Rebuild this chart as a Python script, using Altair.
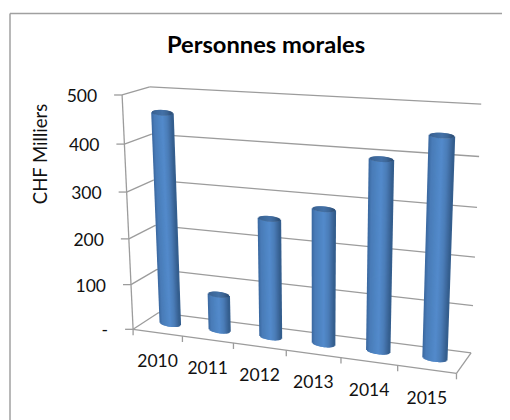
import numpy as np
import pandas as pd
import altair as alt

years = ["2010", "2011", "2012", "2013", "2014", "2015"]
values = [458, 80, 255, 285, 394, 447]
y_ticks = [0, 100, 200, 300, 400, 500]
y_tick_labels = ["-", "100", "200", "300", "400", "500"]
title_text = "Personnes morales"
y_title = "CHF Milliers"

FONT = "Lato"
VMAX = 500.0
LINE = "#9c9c9c"

# Oblique camera of the 3-D box: (category 0..1, value 0..1, depth 0..1) -> page pixel.
_cal = [
    ((0, 1, 0), (123, 95)), ((0, 0, 0), (132.7, 329.3)), ((1, 0, 0), (456.7, 373.3)),
    ((0, 1, 1), (149, 87)), ((0, 0, 1), (160, 313)), ((1, 1, 1), (481.6, 104.5)),
    ((1, 0, 1), (471, 352.7)), ((1 / 6, 0, 0), (182, 336)), ((3 / 6, 0, 0), (286, 350)),
    ((5 / 6, 0, 0), (397.7, 365.5)), ((1, .6, 1), (476.7, 207.3)), ((0, .6, 1), (153, 179.7)),
]
_A = []
for (u, v, w), (px, py) in _cal:
    X = [u, v, w, 1]
    _A.append(X + [0, 0, 0, 0] + [-px * c for c in X])
    _A.append([0, 0, 0, 0] + X + [-py * c for c in X])
_P = np.linalg.svd(np.array(_A, float))[2][-1].reshape(3, 4)


def proj(u, v, w):
    h = _P @ np.array([u, v, w, 1.0])
    return h[0] / h[2], h[1] / h[2]


def seg(rows, a, b):
    x, y = proj(*a)
    x2, y2 = proj(*b)
    rows.append(dict(x=x, y=y, x2=x2, y2=y2))


# grid, floor and axis lines
grid = []
for t in y_ticks:
    v = t / VMAX
    seg(grid, (0, v, 1), (1, v, 1))
    seg(grid, (0, v, 0), (0, v, 1))
    x, y = proj(0, v, 0)
    grid.append(dict(x=x - 8, y=y, x2=x, y2=y))
seg(grid, (0, 0, 0), (0, 1, 0))
seg(grid, (0, 0, 0), (1, 0, 0))
seg(grid, (1, 0, 0), (1, 0, 1))
for k in range(7):
    x, y = proj(k / 6, 0, 0)
    grid.append(dict(x=x, y=y, x2=x, y2=y + 6))
grid = pd.DataFrame(grid)

# cylinders, as narrow vertical strips with a cylinder shading
stops_s = [-1, -.75, -.35, .05, .5, .85, 1]
stops_r = [0x3c, 0x4a, 0x4e, 0x54, 0x4b, 0x3c, 0x34]
stops_g = [0x6a, 0x7c, 0x84, 0x8b, 0x7d, 0x67, 0x5e]
stops_b = [0xa2, 0xb8, 0xc2, 0xcc, 0xb8, 0x9a, 0x8e]


def shade(s, k=1.0):
    rgb = [np.interp(s, stops_s, c) * k for c in (stops_r, stops_g, stops_b)]
    return "#%02x%02x%02x" % tuple(int(c) for c in rgb)


HALF = 0.0335
RY = 2.8
N = 24
bars = []
for i, val in enumerate(values):
    uc = (i + .5) / 6
    v = val / VMAX
    for s in np.linspace(-1, 1, N):
        e = RY * np.sqrt(max(0.0, 1 - s * s))
        x0, y0 = proj(uc + s * HALF, 0, .5)
        x1, y1 = proj(uc + s * HALF, v, .5)
        bars.append(dict(x=x0, y=y0 + e, x2=x1, y2=y1 + e, c=shade(s)))
    for s in np.linspace(-1, 1, N):
        e = RY * np.sqrt(max(0.0, 1 - s * s))
        x1, y1 = proj(uc + s * HALF, v, .5)
        bars.append(dict(x=x1, y=y1 + e, x2=x1, y2=y1 - e, c=shade(s, .82)))
bars = pd.DataFrame(bars)

# texts
ylab = []
for t, lab in zip(y_ticks, y_tick_labels):
    x, y = proj(0, t / VMAX, 0)
    ylab.append(dict(x=x - 25, y=y + 2, t=lab))
ylab = pd.DataFrame(ylab)
xlab = []
for i, lab in enumerate(years):
    x, y = proj((i + .5) / 6, 0, 0)
    xlab.append(dict(x=x, y=y + 29.5, t=lab))
xlab = pd.DataFrame(xlab)

X = alt.Scale(domain=[8, 502], range=[0, 494])
Y = alt.Scale(domain=[8, 420], range=[0, 412])
ex = alt.X("x:Q", scale=X, axis=None)
ey = alt.Y("y:Q", scale=Y, axis=None)

frame = pd.DataFrame([
    dict(x=10, y=13.5, x2=502, y2=13.5),
    dict(x=10, y=13.5, x2=10, y2=420),
])
l_frame = alt.Chart(frame).mark_rule(color="#a0a0a0", strokeWidth=1.5).encode(ex, ey, x2="x2:Q", y2="y2:Q")
l_grid = alt.Chart(grid).mark_rule(color=LINE, strokeWidth=1.3).encode(ex, ey, x2="x2:Q", y2="y2:Q")
l_bars = alt.Chart(bars).mark_rule(strokeWidth=2).encode(
    ex, ey, x2="x2:Q", y2="y2:Q", color=alt.Color("c:N", scale=None)
)
l_ylab = alt.Chart(ylab).mark_text(font=FONT, fontSize=17.5, align="right", baseline="middle", color="#111").encode(ex, ey, text="t:N")
l_xlab = alt.Chart(xlab).mark_text(font=FONT, fontSize=17.5, align="center", baseline="middle", color="#111").encode(ex, ey, text="t:N")
l_title = alt.Chart(pd.DataFrame([dict(x=266, y=46, t=title_text)])).mark_text(
    font=FONT, fontSize=23.7, fontWeight="bold", align="center", baseline="middle", color="#000"
).encode(ex, ey, text="t:N")
l_ytitle = alt.Chart(pd.DataFrame([dict(x=41, y=154, t=y_title)])).mark_text(
    font=FONT, fontSize=18.5, angle=270, align="center", baseline="middle", color="#111"
).encode(ex, ey, text="t:N")

chart = alt.layer(l_frame, l_grid, l_bars, l_ylab, l_xlab, l_title, l_ytitle).properties(
    width=494, height=412, padding=0, background="white",
    autosize=alt.AutoSizeParams(type="none"),
).configure_view(stroke=None)

chart.save("out.html", embed_options={"renderer": "svg", "actions": False})
